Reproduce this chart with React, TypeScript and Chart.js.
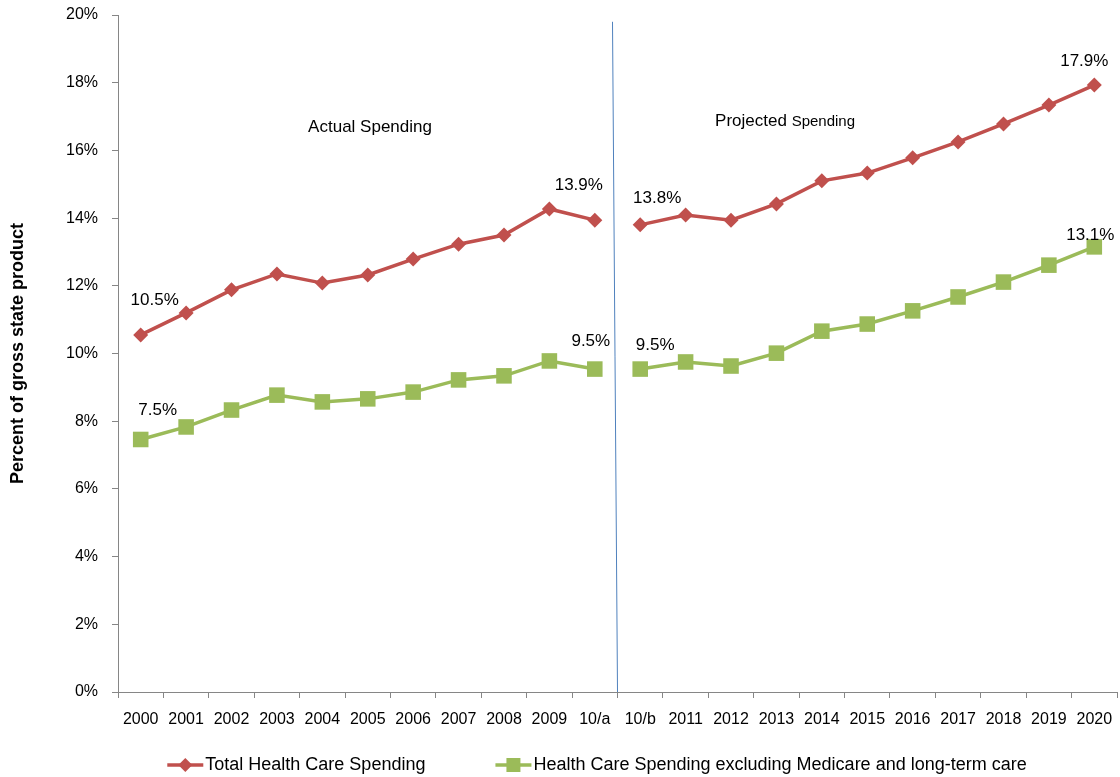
import React, { useEffect, useRef } from "react";
import { Chart, registerables } from "chart.js";

Chart.register(...registerables);

const categories = [
  "2000", "2001", "2002", "2003", "2004", "2005", "2006", "2007", "2008", "2009", "10/a",
  "10/b", "2011", "2012", "2013", "2014", "2015", "2016", "2017", "2018", "2019", "2020",
];
const totalSpending = [
  10.55, 11.2, 11.88, 12.35, 12.08, 12.32, 12.79, 13.23, 13.5, 14.27, 13.94,
  13.8, 14.09, 13.94, 14.42, 15.1, 15.33, 15.78, 16.25, 16.78, 17.34, 17.93,
];
const excludingSpending = [
  7.46, 7.83, 8.33, 8.77, 8.57, 8.66, 8.86, 9.22, 9.34, 9.78, 9.54,
  9.54, 9.75, 9.63, 10.01, 10.66, 10.87, 11.26, 11.67, 12.11, 12.61, 13.15,
];
const seriesNames = [
  "Total Health Care Spending",
  "Health Care Spending excluding Medicare and long-term care",
];
const yTickValues = [0, 2, 4, 6, 8, 10, 12, 14, 16, 18, 20];
const gapAfterIndex = 10;
const valueLabels = [
  { ds: 0, i: 0, text: "10.5%", dx: 14, dy: -35 },
  { ds: 1, i: 0, text: "7.5%", dx: 17, dy: -29 },
  { ds: 0, i: 10, text: "13.9%", dx: -16, dy: -35 },
  { ds: 1, i: 10, text: "9.5%", dx: -4, dy: -28 },
  { ds: 0, i: 11, text: "13.8%", dx: 17, dy: -27 },
  { ds: 1, i: 11, text: "9.5%", dx: 15, dy: -24 },
  { ds: 0, i: 21, text: "17.9%", dx: -10, dy: -24 },
  { ds: 1, i: 21, text: "13.1%", dx: -4, dy: -12 },
];

const RED = "#C0504D";
const GREEN = "#9BBB59";
const FONT = "'Liberation Sans', Arial, sans-serif";

const overlayPlugin = {
  id: "overlay",
  afterDatasetsDraw(chart: any) {
    const ctx = chart.ctx;
    const x = chart.scales.x;
    const y = chart.scales.y;
    ctx.save();
    ctx.strokeStyle = "#4F81BD";
    ctx.lineWidth = 1;
    const bx = x.getPixelForValue(gapAfterIndex + 0.5);
    ctx.beginPath();
    ctx.moveTo(bx - 5, y.getPixelForValue(19.8));
    ctx.lineTo(bx, y.getPixelForValue(0));
    ctx.stroke();

    ctx.fillStyle = "#000";
    ctx.textAlign = "center";
    ctx.textBaseline = "middle";
    ctx.font = `17px ${FONT}`;
    valueLabels.forEach((l) => {
      const pt = chart.getDatasetMeta(l.ds).data[l.i];
      ctx.fillText(l.text, pt.x + l.dx, pt.y + l.dy);
    });

    ctx.font = `17px ${FONT}`;
    ctx.fillText("Actual Spending", x.getPixelForValue(5.05), y.getPixelForValue(16.69));
    const px = x.getPixelForValue(14.19);
    const py = y.getPixelForValue(16.87);
    ctx.font = `17px ${FONT}`;
    const w1 = ctx.measureText("Projected ").width;
    ctx.font = `15px ${FONT}`;
    const w2 = ctx.measureText("Spending").width;
    const sx = px - (w1 + w2) / 2;
    ctx.textAlign = "left";
    ctx.font = `17px ${FONT}`;
    ctx.fillText("Projected ", sx, py);
    ctx.font = `15px ${FONT}`;
    ctx.fillText("Spending", sx + w1, py + 1);

    const ly = chart.height - 12;
    ctx.font = `18px ${FONT}`;
    const markW = 36;
    const gap = 70;
    const widths = seriesNames.map((n) => ctx.measureText(n).width);
    const total = markW * 2 + 2 * 2 + widths[0] + widths[1] + gap;
    let cx = chart.width / 2 + 37 - total / 2;
    chart.data.datasets.forEach((ds: any, k: number) => {
      ctx.strokeStyle = ds.borderColor;
      ctx.lineWidth = 3.5;
      ctx.beginPath();
      ctx.moveTo(cx, ly);
      ctx.lineTo(cx + markW, ly);
      ctx.stroke();
      ctx.fillStyle = ds.borderColor;
      const mx = cx + markW / 2;
      ctx.beginPath();
      if (k === 0) {
        ctx.moveTo(mx - 7, ly);
        ctx.lineTo(mx, ly - 7);
        ctx.lineTo(mx + 7, ly);
        ctx.lineTo(mx, ly + 7);
        ctx.closePath();
      } else {
        ctx.rect(mx - 7, ly - 7, 14, 14);
      }
      ctx.fill();
      ctx.fillStyle = "#000";
      ctx.textAlign = "left";
      ctx.fillText(seriesNames[k], cx + markW + 2, ly);
      cx += markW + 2 + widths[k] + gap;
    });
    ctx.restore();
  },
};

export default function App() {
  const ref = useRef<HTMLCanvasElement>(null);
  useEffect(() => {
    document.body.style.margin = "0";
    document.body.style.overflow = "hidden";
    const mk = (color: string) => ({
      borderColor: (c: any) => (c.p0DataIndex === gapAfterIndex ? "rgba(0,0,0,0)" : color),
    });
    const chart = new Chart(ref.current!, {
      type: "line",
      data: {
        labels: categories,
        datasets: [
          {
            label: seriesNames[0],
            data: totalSpending,
            borderColor: RED,
            backgroundColor: RED,
            borderWidth: 3.5,
            pointStyle: "rectRot",
            pointRadius: 7.5,
            pointBorderWidth: 0,
            segment: mk(RED),
          },
          {
            label: seriesNames[1],
            data: excludingSpending,
            borderColor: GREEN,
            backgroundColor: GREEN,
            borderWidth: 3.5,
            pointStyle: "rect",
            pointRadius: 11,
            pointBorderWidth: 0,
            segment: mk(GREEN),
          },
        ],
      },
      options: {
        animation: false,
        responsive: true,
        maintainAspectRatio: false,
        layout: { autoPadding: false, padding: { top: 15, right: 3, bottom: 40, left: 0 } },
        plugins: { legend: { display: false }, tooltip: { enabled: false } },
        scales: {
          x: {
            offset: true,
            grid: { offset: true, drawOnChartArea: false, drawTicks: true, tickLength: 6, color: "#868686" },
            border: { color: "#868686" },
            ticks: { color: "#000", font: { family: FONT, size: 16 }, padding: 12, maxRotation: 0, autoSkip: false },
            afterFit: (s: any) => { s.height = 45; s.paddingRight = 0; s.paddingLeft = 0; },
          },
          y: {
            min: 0,
            max: 20,
            afterBuildTicks: (s: any) => { s.ticks = yTickValues.map((v) => ({ value: v })); },
            grid: { drawOnChartArea: false, drawTicks: true, tickLength: 6, color: "#868686" },
            border: { color: "#868686" },
            ticks: { color: "#000", font: { family: FONT, size: 16 }, padding: 14, callback: (v: any) => `${v}%` },
            title: {
              display: true,
              text: "Percent of gross state product",
              color: "#000",
              font: { family: FONT, size: 18, weight: "bold" },
              padding: { top: 7, bottom: 0 },
            },
            afterFit: (s: any) => { s.width = 118; s.paddingTop = 0; s.paddingBottom = 0; },
          },
        },
      },
      plugins: [overlayPlugin],
    });
    return () => chart.destroy();
  }, []);
  return (
    <div style={{ width: 1120, height: 777, position: "relative" }}>
      <canvas ref={ref} />
    </div>
  );
}
